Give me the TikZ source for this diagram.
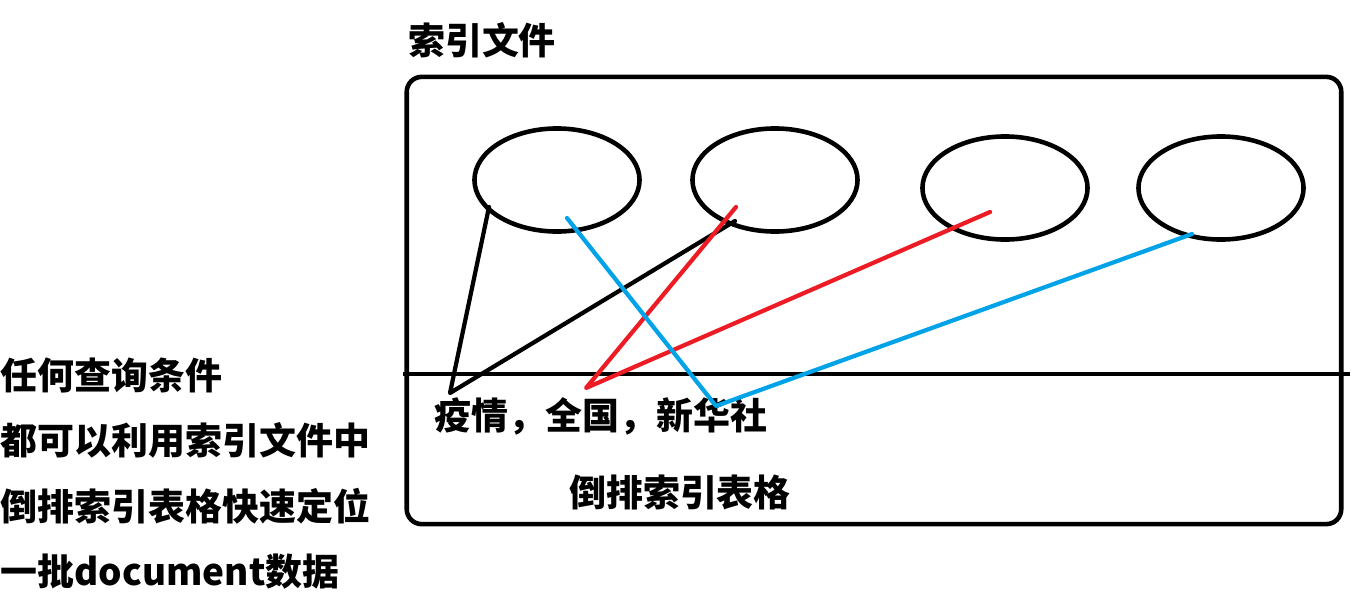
\documentclass[tikz,border=0pt]{standalone}
\usepackage{fontspec}
\newfontfamily\cjk{Noto Sans CJK SC}
\usetikzlibrary{positioning,shapes.geometric}
\definecolor{paintred}{HTML}{ED1C24}
\definecolor{paintblue}{HTML}{00A2E8}

\begin{document}
\begin{tikzpicture}[
    x=0.01cm, y=-0.01cm,
    every node/.style={inner sep=0pt, font=\cjk\bfseries\fontsize{10.5pt}{12pt}\selectfont},
    doc/.style={draw, ellipse, line width=1.3pt, minimum width=1.65cm, minimum height=1.03cm},
    frame/.style={draw, line width=1.3pt, rounded corners=0.15cm, minimum width=9.34cm, minimum height=4.47cm},
    link/.style={line width=1.2pt, line cap=round, line join=round}
]
\useasboundingbox (0,0) rectangle (1366,609);

% index file frame and the split line
\node[frame] (box) at (874,300.5) {};
\node (title) at (482,40) {索引文件};
\coordinate (split-l) at (403,374);
\coordinate (split-r) at (1350,374);
\draw[line width=1.3pt] (split-l) -- (split-r);

% documents
\node[doc] (d1) at (557,180) {};
\node[doc] (d2) at (775,180) {};
\node[doc] (d3) at (1005,188) {};
\node[doc] (d4) at (1221,188) {};

% terms
\node (terms) at (601,416) {疫情，全国，新华社};
\node (table) at (680,492) {倒排索引表格};

% left notes
\node[anchor=west] (n1) at (0,375) {任何查询条件};
\node[anchor=west] (n2) at (0,440) {都可以利用索引文件中};
\node[anchor=west] (n3) at (0,506) {倒排索引表格快速定位};
\node[anchor=west] (n4) at (0,572) {一批document数据};

% postings
\coordinate (k1) at (450,393);
\coordinate (k2) at (586,388);
\coordinate (k3) at (716,406);
\coordinate (p1) at (489,207);
\coordinate (p2) at (735,221);
\coordinate (p3) at (736,207);
\coordinate (p4) at (990,212);
\coordinate (p5) at (567,218);
\coordinate (p6) at (1192,234);

\draw[link] (p1) -- (k1) -- (p2);
\draw[link, paintred] (p3) -- (k2) -- (p4);
\draw[link, paintblue] (p5) -- (k3) -- (p6);
\end{tikzpicture}
\end{document}
